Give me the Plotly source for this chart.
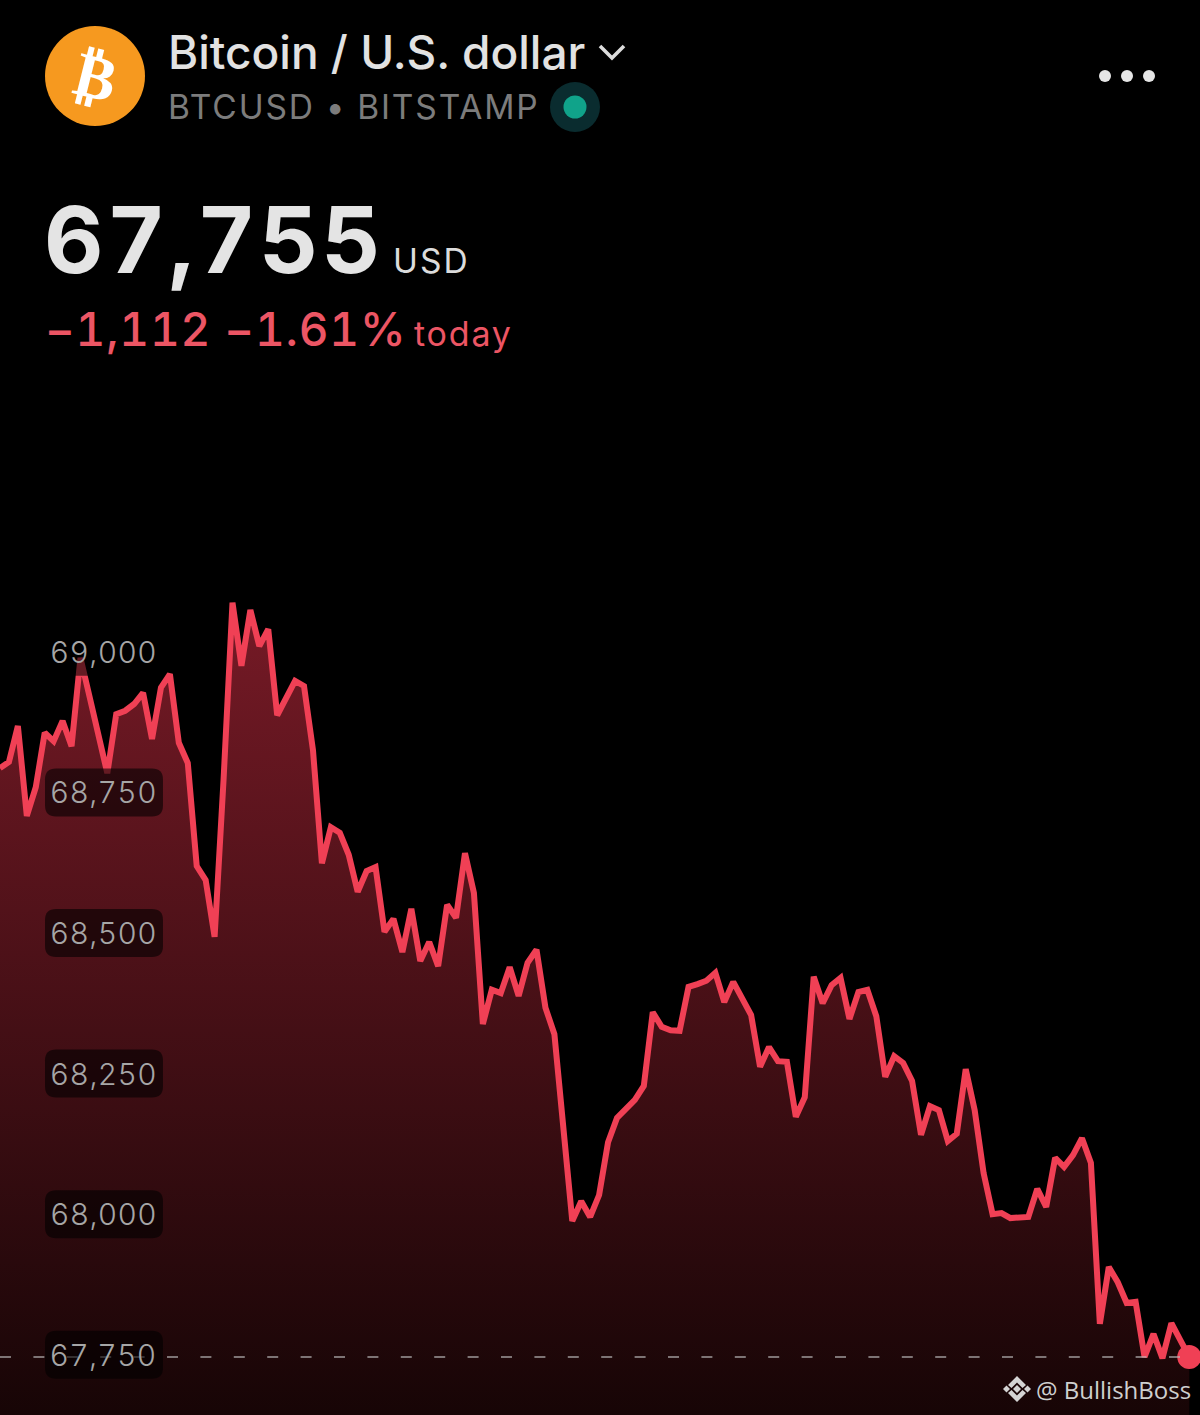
import json
import plotly.graph_objects as go

W, H = 1200, 1415

# --- data ---
prices = [
    68802, 68813, 68877, 68717, 68768, 68865, 68850, 68886, 68841, 68998,
    68930, 68861, 68793, 68898, 68904, 68916, 68936, 68854, 68945, 68969,
    68847, 68811, 68628, 68603, 68502, 68781, 69096, 68984, 69083, 69019,
    69049, 68896, 68927, 68957, 68948, 68834, 68633, 68697, 68687, 68648,
    68582, 68619, 68626, 68511, 68534, 68475, 68552, 68459, 68493, 68450,
    68559, 68536, 68651, 68580, 68347, 68408, 68402, 68448, 68397, 68456,
    68479, 68376, 68329, 68164, 67997, 68032, 68004, 68043, 68137, 68180,
    68198, 68212, 68237, 68368, 68342, 68336, 68335, 68413, 68418, 68424,
    68438, 68386, 68422, 68395, 68363, 68271, 68306, 68281, 68280, 68182,
    68217, 68431, 68384, 68416, 68429, 68356, 68404, 68408, 68361, 68253,
    68290, 68278, 68246, 68150, 68201, 68194, 68139, 68152, 68267, 68194,
    68082, 68009, 68011, 68002, 68004, 68004, 68054, 68022, 68109, 68093,
    68114, 68144, 68100, 67814, 67915, 67888, 67851, 67853, 67755, 67796,
    67753, 67815, 67785, 67755,
]
bar_index = list(range(len(prices)))
tick_values = [69000, 68750, 68500, 68250, 68000, 67750]
tick_labels = ["69,000", "68,750", "68,500", "68,250", "68,000", "67,750"]
last_price = 67755

Y_LO, Y_HI = 67651.9, 70167.7
X_HI = 134.2

RED = "#f04055"
LABEL_SHIFT = 5  # px: tick labels sit slightly above their value


def px(x):
    return x / W


def py(y):
    return 1 - y / H


def path(points, close=True):
    d = " ".join(("M" if i == 0 else "L") + f"{px(a):.5f},{py(b):.5f}" for i, (a, b) in enumerate(points))
    return d + (" Z" if close else "")


def circle(cx, cy, r, color):
    return dict(type="circle", xref="paper", yref="paper", x0=px(cx - r), x1=px(cx + r),
                y0=py(cy + r), y1=py(cy - r), fillcolor=color, line_width=0, layer="above")


def val_to_py(v):
    return 1357 - (v - last_price) * 0.5624


def round_rect(x0, y0, x1, y1, r):
    return (f"M{px(x0 + r):.5f},{py(y0):.5f} L{px(x1 - r):.5f},{py(y0):.5f} "
            f"Q{px(x1):.5f},{py(y0):.5f} {px(x1):.5f},{py(y0 + r):.5f} "
            f"L{px(x1):.5f},{py(y1 - r):.5f} Q{px(x1):.5f},{py(y1):.5f} {px(x1 - r):.5f},{py(y1):.5f} "
            f"L{px(x0 + r):.5f},{py(y1):.5f} Q{px(x0):.5f},{py(y1):.5f} {px(x0):.5f},{py(y1 - r):.5f} "
            f"L{px(x0):.5f},{py(y0 + r):.5f} Q{px(x0):.5f},{py(y0):.5f} {px(x0 + r):.5f},{py(y0):.5f} Z")


fig = go.Figure()
fig.add_trace(go.Scatter(
    x=bar_index, y=prices, mode="lines", fill="tozeroy",
    line=dict(color=RED, width=6, shape="linear"),
    fillgradient=dict(type="vertical", start=69096, stop=Y_LO,
                      colorscale=[[0, "#761a26"], [1, "#170506"]]),
    hoverinfo="skip", showlegend=False,
))
fig.add_trace(go.Scatter(
    x=[bar_index[-1]], y=[prices[-1]], mode="markers",
    marker=dict(color=RED, size=24, line_width=0),
    hoverinfo="skip", showlegend=False,
))

shapes = []
shapes.append(dict(type="line", xref="paper", x0=0, x1=1, yref="y", y0=last_price, y1=last_price,
                   line=dict(color="rgba(190,190,190,0.8)", width=1.4, dash="11px,22.4px"), layer="above"))
for v in tick_values:
    cy = val_to_py(v) - LABEL_SHIFT
    shapes.append(dict(type="path", xref="paper", yref="paper", path=round_rect(45, cy - 24, 163, cy + 24, 11),
                       fillcolor="rgba(0,0,0,0.58)", line_width=0, layer="above"))
shapes.append(circle(95, 76, 50, "#f6991f"))
shapes.append(circle(575, 107, 25, "#0a2c2f"))
shapes.append(circle(575, 107, 11.5, "#10a38a"))
for cx in (1105, 1127, 1149):
    shapes.append(circle(cx, 76, 6, "#e6e6e6"))
shapes.append(dict(type="path", xref="paper", yref="paper",
                   path=path([(600, 46), (612, 58), (624, 46)], close=False),
                   line=dict(color="#dcdcdc", width=3.6), layer="above"))
logo = [
    [(1017, 1376), (1026, 1385), (1022.5, 1388), (1017, 1382.5), (1011.5, 1388), (1008, 1385)],
    [(1017, 1402), (1026, 1393), (1022.5, 1390), (1017, 1395.5), (1011.5, 1390), (1008, 1393)],
    [(1017, 1385), (1021, 1389), (1017, 1393), (1013, 1389)],
    [(1006.5, 1385.5), (1010, 1389), (1006.5, 1392.5), (1003, 1389)],
    [(1027.5, 1385.5), (1031, 1389), (1027.5, 1392.5), (1024, 1389)],
]
for pts in logo:
    shapes.append(dict(type="path", xref="paper", yref="paper", path=path(pts),
                       fillcolor="#d4d4d4", line_width=0, layer="above"))


def text(x, y, s, size, color, family="Inter", anchor="left", weight=None, angle=0):
    font = dict(size=size, color=color, family=family)
    if weight:
        font["weight"] = weight
    return dict(xref="paper", yref="paper", x=px(x), y=py(y), text=s, showarrow=False, font=font,
                xanchor=anchor, yanchor="middle", textangle=angle, align="left", borderpad=0, borderwidth=0)


TITLE, SUB, PRICE, UNIT, CHANGE, TODAY = ("Bitcoin / U.S. dollar", "BTCUSD • BITSTAMP", "67,755", "USD",
                                          "−1,112 −1.61%", "today")
annotations = [
    text(168, 52, TITLE, 46, "#e2e2e2", weight=500),
    text(168, 107, SUB, 33.5, "#7c7c7c"),
    text(44, 240, PRICE, 92, "#e4e4e4", weight=700),
    text(393, 261, UNIT, 33.5, "#dcdcdc"),
    text(45, 329, CHANGE, 46, "#ec5564", weight=500),
    text(414, 334, TODAY, 34, "#ec5564"),
    text(95, 77, "₿", 62, "#ffffff", family="DejaVu Sans", anchor="center", weight=700, angle=14),
    text(1036, 1389, "@ BullishBoss", 24, "#cfcfcf", family="Open Sans"),
]
for v, lab in zip(tick_values, tick_labels):
    annotations.append(dict(xref="paper", yref="y", x=px(103), y=v, yshift=LABEL_SHIFT, text=lab, showarrow=False,
                            font=dict(size=30, color="#a6a6a6", family="Inter", weight=300),
                            xanchor="center", yanchor="middle"))

fig.update_layout(
    width=W, height=H, margin=dict(l=0, r=0, t=0, b=0, pad=0),
    paper_bgcolor="#000000", plot_bgcolor="#000000", showlegend=False,
    xaxis=dict(visible=False, range=[0, X_HI], fixedrange=True),
    yaxis=dict(visible=True, range=[Y_LO, Y_HI], showgrid=False, zeroline=False, showline=False,
               showticklabels=False, ticks="", tickvals=tick_values, fixedrange=True),
    shapes=shapes, annotations=annotations,
)

# letter spacing (px) that the reference text has and plotly fonts cannot express
spacing = {SUB: 1.85, PRICE: 3.0, UNIT: 2.0, CHANGE: 0.8, TODAY: 1.8}
for lab in tick_labels:
    spacing[lab] = 0.35

post = """
document.body.style.margin='0';document.body.style.background='#000';document.body.style.overflow='hidden';
var sp = %s;
document.querySelectorAll('.annotation-text').forEach(function(t){
  var s = sp[t.textContent];
  if (s !== undefined) { t.style.letterSpacing = s + 'px'; t.style.fontVariantNumeric = 'tabular-nums'; }
});
""" % json.dumps(spacing)

fig.write_html("out.html", config={"displayModeBar": False}, post_script=post)
